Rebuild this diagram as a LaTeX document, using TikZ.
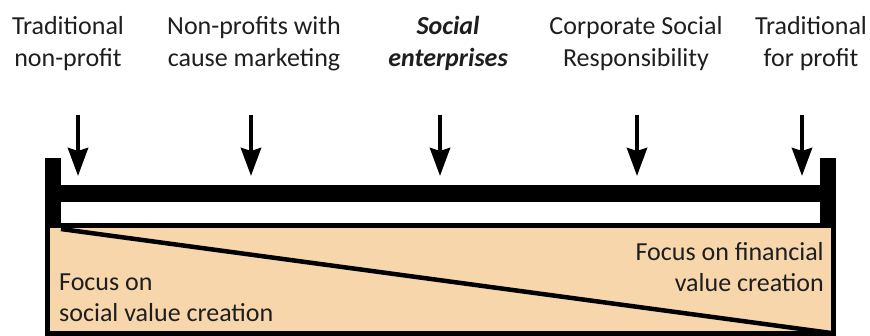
\documentclass[tikz,border=0pt]{standalone}
\usepackage{fontspec}
\setmainfont{Carlito}
\usetikzlibrary{arrows.meta}
\definecolor{peach}{HTML}{F7D6AC}
\definecolor{ink}{HTML}{1E1E1E}
\begin{document}
\begin{tikzpicture}[x=1pt,y=-1pt,
  lbl/.style={inner sep=0pt,text=ink,font=\fontsize{26}{32}\selectfont,align=center,anchor=base},
  btxt/.style={inner sep=0pt,text=ink,font=\fontsize{26}{31.5}\selectfont},
  darr/.style={line width=4.5pt,-{Stealth[length=28pt,width=20pt,inset=3pt]}}]
\useasboundingbox (0,0) rectangle (870,336);
% box
\path[fill=peach,draw=black,line width=5pt] (47.5,226) rectangle (833.5,333.5);
\coordinate (dl) at (61,229);
\coordinate (dr) at (831,333);
\draw[line width=4.5pt] (dl) -- (dr);
% posts and bar
\fill[black] (45,158) rectangle (61,228);
\fill[black] (820,158) rectangle (836,228);
\fill[black] (61,185) rectangle (820,202);
% labels
\node[lbl] (t1) at (68,67) {Traditional\\non-profit};
\node[lbl] (t2) at (254,67) {Non-profits with\\cause marketing};
\node[lbl,font=\fontsize{26}{32}\selectfont\bfseries\itshape] (t3) at (448,67) {Social\\enterprises};
\node[lbl] (t4) at (636,67) {Corporate Social\\Responsibility};
\node[lbl] (t5) at (811,67) {Traditional\\for profit};
% arrows
\foreach \i/\x in {1/78,2/251,3/440,4/637,5/802}{
  \coordinate (a\i s) at (\x,115);
  \coordinate (a\i e) at (\x,176);
  \draw[darr] (a\i s) -- (a\i e);
}
% bottom texts
\node[btxt,align=left,anchor=base west] (fs) at (59,322) {Focus on\\social value creation};
\node[btxt,align=right,anchor=base east] (ff) at (824,292) {Focus on financial\\value creation};
\end{tikzpicture}
\end{document}
